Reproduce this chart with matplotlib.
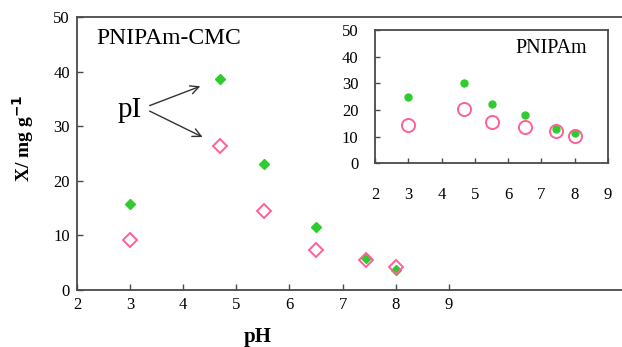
import matplotlib.pyplot as plt

plt.rcParams['font.family'] = ['Liberation Serif', 'DejaVu Serif']

# Main panel: PNIPAm-CMC
ph_main = [3.0, 4.7, 5.52, 6.5, 7.44, 8.0]
green_main = [15.8, 38.6, 23.0, 11.6, 5.9, 3.7]
pink_main = [9.1, 26.4, 14.5, 7.3, 5.5, 4.3]

# Inset: PNIPAm
ph_inset = [3.0, 4.67, 5.5, 6.5, 7.43, 8.0]
green_inset = [24.9, 30.0, 22.2, 18.0, 13.0, 11.5]
pink_inset = [14.3, 20.3, 15.3, 13.5, 12.0, 10.3]

x_ticks = [2, 3, 4, 5, 6, 7, 8, 9]
y_ticks = [0, 10, 20, 30, 40, 50]

green = '#2ecc2e'
pink = '#ff5f9a'
spine_col = '#4a4a4a'

fig = plt.figure(figsize=(6.22, 3.47), dpi=100)

# main axes (runs off the right edge, like the original)
ax = fig.add_axes([0.1238, 0.164, 0.8762, 0.787])
ax.plot(ph_main, green_main, 'D', color=green, markersize=4.8, linestyle='none')
ax.plot(ph_main, pink_main, 'D', markerfacecolor='none', markeredgecolor=pink,
        markeredgewidth=1.4, markersize=7, linestyle='none')
ax.set_xlim(2, 12.26)
ax.set_ylim(0, 50)
ax.set_xticks(x_ticks)
ax.set_yticks(y_ticks)
ax.spines['right'].set_visible(False)
for s in ['left', 'top', 'bottom']:
    ax.spines[s].set_color(spine_col)
    ax.spines[s].set_linewidth(1.3)
ax.tick_params(direction='in', length=4, width=1, color=spine_col,
               labelsize=12, pad=5)
ax.set_xlabel('pH', fontsize=15, fontweight='bold')
ax.xaxis.set_label_coords(0.332, -0.135)
ax.set_ylabel('X/ mg g$^{\\mathbf{-1}}$', fontsize=14, fontweight='bold')
ax.yaxis.set_label_coords(-0.075, 0.557)
ax.text(0.036, 0.923, 'PNIPAm-CMC', transform=ax.transAxes, fontsize=17,
        va='center')

ax.text(3.0, 33.0, 'pI', fontsize=21, va='center', ha='center')
ax.annotate('', xy=(4.37, 37.5), xytext=(3.32, 33.6),
            arrowprops=dict(arrowstyle='->', color='#333333', lw=1, mutation_scale=15))
ax.annotate('', xy=(4.41, 27.8), xytext=(3.32, 33.0),
            arrowprops=dict(arrowstyle='->', color='#333333', lw=1, mutation_scale=15))

# inset axes
ins = fig.add_axes([0.603, 0.530, 0.3746, 0.383])
ins.plot(ph_inset, green_inset, 'o', color=green, markersize=5, linestyle='none')
ins.plot(ph_inset, pink_inset, 'o', markerfacecolor='none', markeredgecolor=pink,
         markeredgewidth=1.4, markersize=9.4, linestyle='none')
ins.set_xlim(2, 9)
ins.set_ylim(0, 50)
ins.set_xticks(x_ticks)
ins.set_yticks(y_ticks)
for s in ins.spines.values():
    s.set_color(spine_col)
    s.set_linewidth(1.3)
ins.tick_params(direction='in', length=3.5, width=1, color=spine_col, labelsize=12)
ins.tick_params(axis='x', pad=17)
ins.tick_params(axis='y', pad=12)
ins.text(0.91, 0.865, 'PNIPAm', transform=ins.transAxes, fontsize=14.5,
         ha='right', va='center')

fig.savefig('out.png', dpi=100)
